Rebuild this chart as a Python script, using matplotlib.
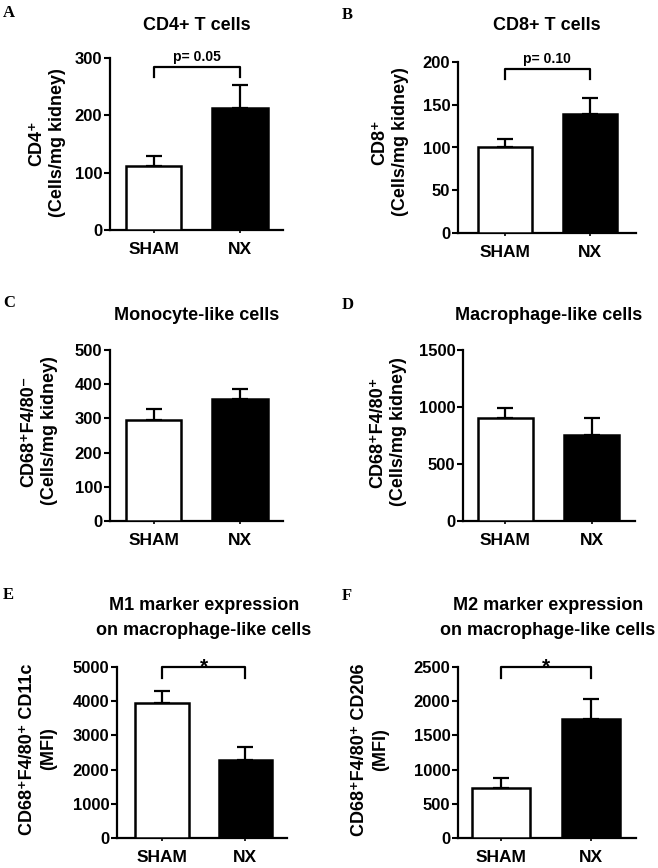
import numpy as np
import matplotlib.pyplot as plt

plt.rcParams['font.family'] = ['Liberation Sans', 'DejaVu Sans']
plt.rcParams['font.weight'] = 'bold'

groups = ["SHAM", "NX"]

# mean and upper error (SEM) per panel, SHAM then NX
cd4_mean = [111, 213]
cd4_err = [18, 40]
cd8_mean = [100, 139]
cd8_err = [10, 19]
mono_mean = [295, 357]
mono_err = [32, 30]
macro_mean = [903, 754]
macro_err = [88, 146]
m1_mean = [3950, 2280]
m1_err = [350, 380]
m2_mean = [730, 1740]
m2_err = [147, 290]

means = [cd4_mean, cd8_mean, mono_mean, macro_mean, m1_mean, m2_mean]
errs = [cd4_err, cd8_err, mono_err, macro_err, m1_err, m2_err]

titles = ["CD4+ T cells", "CD8+ T cells", "Monocyte-like cells",
          "Macrophage-like cells",
          "M1 marker expression\non macrophage-like cells",
          "M2 marker expression\non macrophage-like cells"]
ylabels = ["CD4\u207a\n(Cells/mg kidney)",
           "CD8\u207a\n(Cells/mg kidney)",
           "CD68\u207aF4/80\u207b\n(Cells/mg kidney)",
           "CD68\u207aF4/80\u207a\n(Cells/mg kidney)",
           "CD68\u207aF4/80\u207a CD11c\n(MFI)",
           "CD68\u207aF4/80\u207a CD206\n(MFI)"]
letters = ["A", "B", "C", "D", "E", "F"]
yticks = [[0, 100, 200, 300], [0, 50, 100, 150, 200],
          [0, 100, 200, 300, 400, 500], [0, 500, 1000, 1500],
          [0, 1000, 2000, 3000, 4000, 5000], [0, 500, 1000, 1500, 2000, 2500]]
sig_text = ["p= 0.05", "p= 0.10", None, None, "*", "*"]
sig_level = [284, 192, None, None, 5000, 2500]
sig_drop = [17, 12, None, None, 320, 160]

W, H = 658, 868
fig = plt.figure(figsize=(W / 100, H / 100), dpi=100)

# axes boxes in pixels: left, right, top, bottom
boxes = [(110, 283, 58, 230), (458, 636, 62, 233),
         (110, 283, 350, 521), (463, 635, 350, 521),
         (117, 287, 667, 838), (458, 636, 667, 838)]
xlims = [(-0.51, 1.5), (-0.55, 1.54), (-0.51, 1.5), (-0.49, 1.5),
         (-0.54, 1.5), (-0.48, 1.5)]
title_pos = [(197, 25), (547, 25), (197, 315), (549, 315), (204, 618), (548, 618)]
ylab_pos = [(47, 143), (390, 142), (39, 431), (388, 432), (38, 749), (370, 750)]
letter_pos = [(3, 13), (342, 15), (3, 303), (342, 305), (3, 595), (342, 596)]

x = np.arange(len(groups))
for i in range(6):
    l, r, t, b = boxes[i]
    ax = fig.add_axes([l / W, 1 - b / H, (r - l) / W, (b - t) / H])
    ax.bar(x, means[i], width=0.64, color=["white", "black"],
           edgecolor="black", linewidth=1.8, zorder=3)
    ax.errorbar(x, means[i], yerr=[np.zeros(2), errs[i]], fmt="none",
                ecolor="black", elinewidth=1.6, capsize=6, capthick=1.6, zorder=2)
    ax.set_xlim(*xlims[i])
    ax.set_ylim(0, yticks[i][-1])
    ax.set_yticks(yticks[i])
    ax.set_xticks(x)
    ax.set_xticklabels(groups)
    for s in ["top", "right"]:
        ax.spines[s].set_visible(False)
    for s in ["left", "bottom"]:
        ax.spines[s].set_linewidth(1.6)
    ax.tick_params(axis="y", length=4.5, width=1.5, pad=1, labelsize=12)
    ax.tick_params(axis="x", length=2.5, width=1.2, pad=6, labelsize=12.5)

    if sig_text[i] is not None:
        h = sig_level[i]
        d = sig_drop[i]
        ax.plot([0, 0, 1, 1], [h - d, h, h, h - d], color="black", lw=1.6,
                clip_on=False, zorder=4)
        if sig_text[i] == "*":
            ax.annotate("*", (0.5, h), xytext=(0, -4), textcoords="offset points",
                        ha="center", va="baseline", fontsize=15, annotation_clip=False)
        else:
            ax.annotate(sig_text[i], (0.5, h), xytext=(0, 2), textcoords="offset points",
                        ha="center", va="bottom", fontsize=10, annotation_clip=False)

    tx, ty = title_pos[i]
    fig.text(tx / W, 1 - ty / H, titles[i], ha="center", va="center",
             fontsize=13, linespacing=1.55)
    lx, ly = ylab_pos[i]
    fig.text(lx / W, 1 - ly / H, ylabels[i], rotation=90, ha="center",
             va="center", multialignment="center", fontsize=13, linespacing=1.25)
    px, py = letter_pos[i]
    fig.text(px / W, 1 - py / H, letters[i], ha="left", va="center",
             fontsize=12, family="Liberation Serif", fontweight="bold")

fig.savefig("out.png", dpi=100)
